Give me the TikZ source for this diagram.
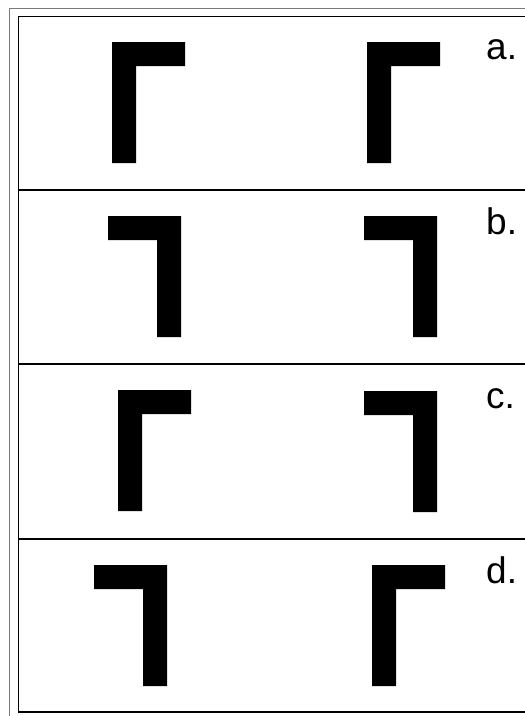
\documentclass[tikz,border=0pt]{standalone}
\usepackage{fontspec}
\setmainfont{Liberation Sans}
\usepackage{tikz}
\definecolor{framec}{HTML}{7A7A7A}
% corner shapes, top-left corner given in px
\newcommand{\upcorner}[2]{\fill (#1,#2) -- ++(73,0) -- ++(0,24) -- ++(-49,0) -- ++(0,97) -- ++(-24,0) -- cycle;}
\newcommand{\downcorner}[2]{\fill (#1,#2) -- ++(73,0) -- ++(0,121) -- ++(-24,0) -- ++(0,-97) -- ++(-49,0) -- cycle;}

\begin{document}
\begin{tikzpicture}[x=1pt, y=-1pt, lab/.style={anchor=base west, inner sep=0pt, font=\fontsize{37}{40}\selectfont}]
  \useasboundingbox (0,0) rectangle (525,716);
  \clip (0,0) rectangle (525,716);
  \fill[white] (0,0) rectangle (525,716);
  \draw[framec, line width=1pt] (9.5,8.5) rectangle (545,730);
  \draw[line width=1.4pt] (18.5,16.5) rectangle (540,712);
  \foreach \y in {190,364,539}{\draw[line width=1.6pt] (18.5,\y) -- (540,\y);}
  % row a
  \upcorner{112}{42}   \upcorner{367}{42}
  \node[lab] (la) at (486,59) {a.};
  % row b
  \downcorner{108}{216} \downcorner{364}{216}
  \node[lab] (lb) at (486,234) {b.};
  % row c
  \upcorner{118}{390}  \downcorner{364}{391}
  \node[lab] (lc) at (486,408) {c.};
  % row d
  \downcorner{94}{565} \upcorner{372}{565}
  \node[lab] (ld) at (486,583) {d.};
\end{tikzpicture}
\end{document}
